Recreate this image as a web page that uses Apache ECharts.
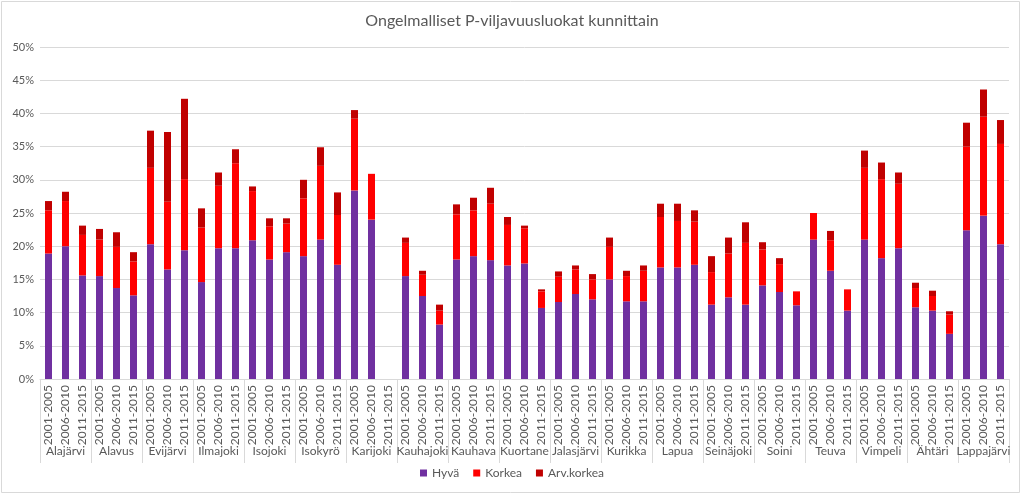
<!DOCTYPE html>
<html><head><meta charset="utf-8">
<script src="https://cdn.jsdelivr.net/npm/echarts@6/dist/echarts.min.js"></script>
<style>html,body{margin:0;padding:0;background:#fff}#c{width:1024px;height:496px}</style>
</head><body><div id="c"></div>
<script>
const municipalities = ["Alajärvi","Alavus","Evijärvi","Ilmajoki","Isojoki","Isokyrö","Karijoki","Kauhajoki","Kauhava","Kuortane","Jalasjärvi","Kurikka","Lapua","Seinäjoki","Soini","Teuva","Vimpeli","Ähtäri","Lappajärvi"];
const periods = ["2001-2005","2006-2010","2011-2015"];
const hyva = [18.9,20.0,15.6, 15.5,13.7,12.6, 20.3,16.5,19.4, 14.6,19.7,19.7, 20.9,18.0,19.1, 18.5,21.0,17.2, 28.4,24.0,null, 15.5,12.5,8.2, 18.0,18.5,17.9, 17.1,17.4,10.7, 11.6,12.8,12.0, 15.0,11.7,11.7, 16.8,16.8,17.2, 11.2,12.3,11.2, 14.1,13.1,11.1, 21.0,16.3,10.3, 21.0,18.2,19.7, 10.8,10.3,6.8, 22.4,24.6,20.3];
const korkea = [6.5,6.8,6.1, 5.5,6.2,5.1, 11.5,10.2,10.7, 8.2,9.4,12.8, 7.4,5.0,4.3, 8.7,11.1,7.5, 10.8,6.9,null, 5.0,3.2,2.1, 6.8,6.9,8.5, 6.1,5.3,2.5, 3.8,3.7,3.0, 4.9,3.8,4.6, 7.6,7.0,6.5, 4.9,6.6,9.3, 5.4,4.2,2.1, 4.0,4.6,3.2, 10.8,11.9,9.7, 2.9,2.2,2.9, 12.6,14.9,15.1];
const arvKorkea = [1.4,1.4,1.4, 1.6,2.2,1.4, 5.6,10.5,12.1, 2.9,2.0,2.1, 0.7,1.2,0.8, 2.8,2.8,3.4, 1.3,0,null, 0.8,0.6,0.9, 1.5,1.9,2.4, 1.2,0.4,0.3, 0.8,0.6,0.8, 1.4,0.8,0.8, 2.0,2.6,1.7, 2.4,2.4,3.1, 1.1,0.9,0, 0,1.4,0, 2.6,2.5,1.7, 0.8,0.8,0.5, 3.6,4.1,3.6];
const yTicks = [0,5,10,15,20,25,30,35,40,45,50];

const cats = [];
municipalities.forEach(m => periods.forEach(p => cats.push(p)));
const textColor = '#595959';
const font = 'Lato, sans-serif';

const chart = echarts.init(document.getElementById('c'), null, {renderer:'canvas'});
const mk = (name, data, color) => ({
  name, type:'bar', stack:'s', data, barWidth:7, xAxisIndex:0,
  itemStyle:{color}, emphasis:{disabled:true}
});
chart.setOption({
  animation:false,
  title:{text:'Ongelmalliset P-viljavuusluokat kunnittain', left:'center', top:8,
    textStyle:{color:textColor, fontSize:16, fontWeight:'normal', fontFamily:font}},
  graphic:[{type:'rect', shape:{x:1.5,y:1.5,width:1018,height:491}, style:{fill:null, stroke:'#d9d9d9', lineWidth:1}, silent:true}],
  legend:{bottom:12, left:'center', itemWidth:7, itemHeight:7, itemGap:14, icon:'rect',
    textStyle:{color:textColor, fontSize:12, fontFamily:font},
    data:['Hyvä','Korkea','Arv.korkea']},
  grid:{left:40, right:15, top:47, bottom:117, containLabel:false},
  xAxis:[
    {type:'category', data:cats, position:'bottom',
     axisLine:{lineStyle:{color:'#d9d9d9'}}, axisTick:{show:false},
     axisLabel:{rotate:90, interval:0, color:textColor, fontSize:12, fontFamily:font, margin:6}},
    {type:'category', data:municipalities, position:'bottom',
     axisLine:{show:false},
     axisTick:{show:true, length:84, lineStyle:{color:'#d9d9d9'}},
     axisLabel:{interval:0, color:textColor, fontSize:12, fontFamily:font, margin:66}}
  ],
  yAxis:{type:'value', min:0, max:50, interval:5,
    axisLabel:{formatter:v=>v+'%', color:textColor, fontSize:11, fontFamily:font, margin:6},
    axisLine:{show:false}, axisTick:{show:false},
    splitLine:{lineStyle:{color:'#d9d9d9'}}},
  series:[
    mk('Hyvä', hyva, '#7030A0'),
    mk('Korkea', korkea, '#FF0000'),
    mk('Arv.korkea', arvKorkea, '#C00000')
  ]
});
</script></body></html>
